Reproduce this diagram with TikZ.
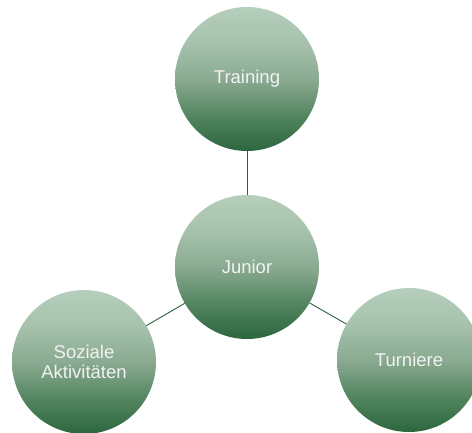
\documentclass[tikz,border=0pt]{standalone}
\usepackage{fontspec}
\setmainfont{Liberation Sans}
\definecolor{bubtop}{RGB}{182,206,188}
\definecolor{bubup}{RGB}{165,193,171}
\definecolor{bubmid}{RGB}{138,170,145}
\definecolor{bublow}{RGB}{78,130,92}
\definecolor{bubbot}{RGB}{44,102,62}
\definecolor{linkc}{RGB}{46,94,62}
\pgfdeclareverticalshading{bubble}{100bp}{
  color(0bp)=(bubbot);
  color(25bp)=(bubbot);
  color(36bp)=(bublow);
  color(50bp)=(bubmid);
  color(62bp)=(bubup);
  color(75bp)=(bubtop);
  color(100bp)=(bubtop)}
\begin{document}
\begin{tikzpicture}[x=1pt,y=-1pt,
  bubble/.style={circle,minimum size=144pt,inner sep=0pt,shading=bubble,
    text=white!95!black,font=\fontsize{18.5}{20.5}\selectfont,align=center},
  link/.style={draw=linkc,line width=0.9pt}]
\useasboundingbox (0,0) rectangle (472,432);
\begin{scope}
\clip (0,0) rectangle (472,432);
\node[bubble] (junior) at (247,267) {Junior};
\node[bubble] (training) at (247,79) {Training};
\node[bubble] (sozial) at (84,362) {Soziale\\Aktivitäten};
\node[bubble] (turniere) at (409,360) {Turniere};
\draw[link] (junior) -- (training);
\draw[link] (junior) -- (sozial);
\draw[link] (junior) -- (turniere);
\end{scope}
\end{tikzpicture}
\end{document}
